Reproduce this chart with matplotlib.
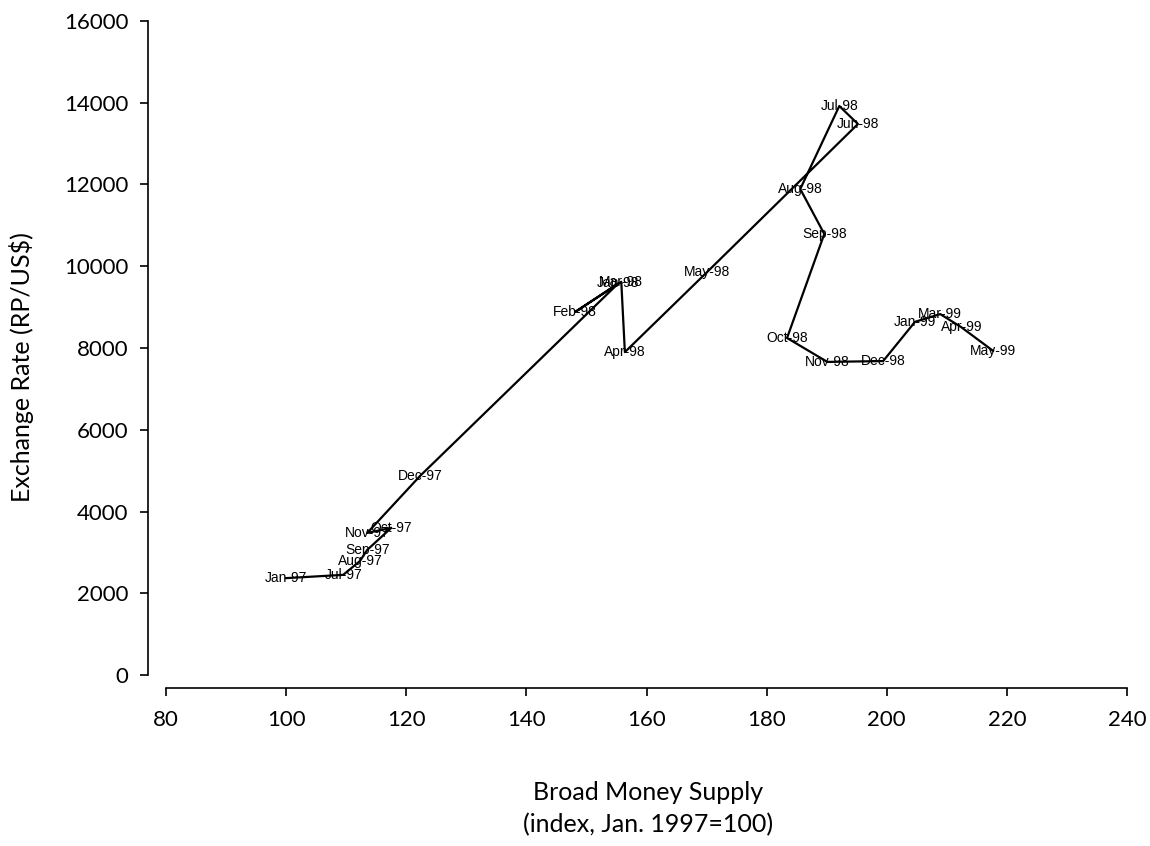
import matplotlib
matplotlib.use('Agg')
from matplotlib import pyplot as plt

# money supply index vs exchange rate, monthly
months = ['Jan-97', 'Jul-97', 'Aug-97', 'Sep-97', 'Oct-97', 'Nov-97', 'Dec-97',
          'Jan-98', 'Feb-98', 'Mar-98', 'Apr-98', 'May-98', 'Jun-98', 'Jul-98',
          'Aug-98', 'Sep-98', 'Oct-98', 'Nov-98', 'Dec-98', 'Jan-99', 'Mar-99',
          'Apr-99', 'May-99']
money = [100.0, 109.5, 112.3, 113.5, 117.5, 113.5, 122.3,
         155.3, 148.1, 155.8, 156.4, 170.1, 195.2, 192.1,
         185.6, 189.6, 183.4, 190.1, 199.4, 204.7, 208.9,
         212.4, 217.7]
rate = [2370, 2450, 2790, 3060, 3600, 3475, 4870,
        9580, 8880, 9620, 7900, 9860, 13480, 13920,
        11890, 10790, 8245, 7660, 7680, 8640, 8830,
        8510, 7930]

x_ticks = [80, 100, 120, 140, 160, 180, 200, 220, 240]
y_ticks = [0, 2000, 4000, 6000, 8000, 10000, 12000, 14000, 16000]

axis_font = 'Lato'
label_font = 'Liberation Sans'

W, H = 1150, 846
fig = plt.figure(figsize=(W / 100, H / 100), dpi=100)
ax = fig.add_axes([166 / W, (H - 675) / H, (1127 - 166) / W, (675 - 21) / H])

ax.plot(money, rate, color='black', linewidth=1.6)
for m, xv, yv in zip(months, money, rate):
    ax.text(xv, yv, m, ha='center', va='center', fontsize=10,
            family=label_font, color='black', clip_on=False)

ax.set_xlim(80, 240)
ax.set_ylim(0, 16000)
ax.set_xticks(x_ticks)
ax.set_yticks(y_ticks)
ax.set_xticklabels([str(t) for t in x_ticks])
ax.set_yticklabels([str(t) for t in y_ticks])

for s in ['top', 'right']:
    ax.spines[s].set_visible(False)
ax.spines['left'].set_position(('outward', 13))
ax.spines['bottom'].set_position(('outward', 9))
ax.spines['left'].set_bounds(0, 16000)
ax.spines['bottom'].set_bounds(80, 240)
ax.spines['left'].set_linewidth(1.2)
ax.spines['bottom'].set_linewidth(1.2)
ax.tick_params(axis='both', direction='out', length=6, width=1.2, labelsize=16)
ax.tick_params(axis='x', pad=10)
ax.tick_params(axis='y', pad=8)
for lab in ax.get_xticklabels() + ax.get_yticklabels():
    lab.set_fontfamily(axis_font)

fig.text(648 / W, 1 - 792 / H, 'Broad Money Supply', ha='center', va='center',
         family=axis_font, fontsize=18)
fig.text(648 / W, 1 - 825 / H, '(index, Jan. 1997=100)', ha='center', va='center',
         family=axis_font, fontsize=18)
fig.text(22 / W, 1 - 367 / H, 'Exchange Rate (RP/US$)', ha='center', va='center',
         rotation=90, family=axis_font, fontsize=18)

fig.savefig('out.png', dpi=100)
